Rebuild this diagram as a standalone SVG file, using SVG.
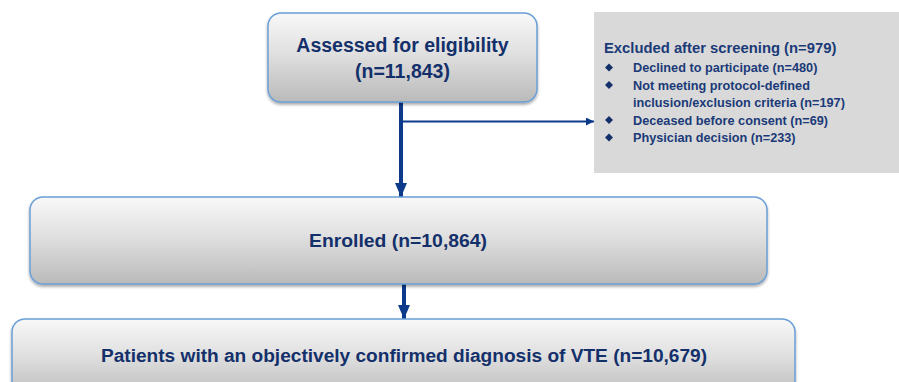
<svg xmlns="http://www.w3.org/2000/svg" width="899" height="382" viewBox="0 0 899 382">
  <defs>
    <linearGradient id="boxGrad" x1="0" y1="0" x2="0" y2="1">
      <stop offset="0" stop-color="#f8f8f8"/>
      <stop offset="0.45" stop-color="#e0e0e0"/>
      <stop offset="1" stop-color="#bababa"/>
    </linearGradient>
    <filter id="shadow" x="-5%" y="-5%" width="110%" height="120%">
      <feGaussianBlur in="SourceAlpha" stdDeviation="1.5"/>
      <feOffset dx="0" dy="2" result="b"/>
      <feComponentTransfer><feFuncA type="linear" slope="0.35"/></feComponentTransfer>
      <feMerge><feMergeNode/><feMergeNode in="SourceGraphic"/></feMerge>
    </filter>
    <marker id="bigHead" markerWidth="14" markerHeight="12" refX="14" refY="6" orient="auto" markerUnits="userSpaceOnUse">
      <path d="M0,0 L14,6 L0,12 Z" fill="#0d3a8a"/>
    </marker>
    <marker id="smallHead" markerWidth="8" markerHeight="8" refX="8" refY="4" orient="auto" markerUnits="userSpaceOnUse">
      <path d="M0,0 L8,4 L0,8 Z" fill="#0d3a8a"/>
    </marker>
  </defs>
  <style>
    .box { fill: url(#boxGrad); stroke: #6a9fd8; stroke-width: 1.5; filter: url(#shadow); }
    .main { font-family: "Liberation Sans", Arial, sans-serif; font-weight: bold; fill: #14306a; text-anchor: middle; }
    .excl { font-family: "Liberation Sans", Arial, sans-serif; font-weight: bold; fill: #1b3a78; }
    .bullet { fill: #14306a; }
    .thick { stroke: #0d3a8a; stroke-width: 4; fill: none; }
    .thin { stroke: #0d3a8a; stroke-width: 2; fill: none; }
  </style>

  <g id="connectors">
    <line class="thick" x1="401" y1="102" x2="401" y2="197" marker-end="url(#bigHead)"/>
    <line class="thin" x1="401" y1="121.5" x2="594" y2="121.5" marker-end="url(#smallHead)"/>
    <line class="thick" x1="404" y1="284" x2="404" y2="319" marker-end="url(#bigHead)"/>
  </g>

  <g id="assessed">
    <rect class="box" x="268" y="13" width="269" height="89" rx="13"/>
    <text class="main" x="402.5" y="52" font-size="19.5">Assessed for eligibility</text>
    <text class="main" x="402.5" y="78" font-size="19.5">(n=11,843)</text>
  </g>

  <g id="excluded">
    <rect x="594" y="12" width="305" height="161" fill="#d9d9d9"/>
    <text class="excl" x="604" y="53" font-size="14.8">Excluded after screening (n=979)</text>
    <path class="bullet" d="M609,63.5 l4,4 l-4,4 l-4,-4 Z"/>
    <text class="excl" x="633" y="72" font-size="12.7">Declined to participate (n=480)</text>
    <path class="bullet" d="M609,81 l4,4 l-4,4 l-4,-4 Z"/>
    <text class="excl" x="633" y="89.5" font-size="12.7">Not meeting protocol-defined</text>
    <text class="excl" x="633" y="107" font-size="12.7">inclusion/exclusion criteria (n=197)</text>
    <path class="bullet" d="M609,116 l4,4 l-4,4 l-4,-4 Z"/>
    <text class="excl" x="633" y="124.5" font-size="12.7">Deceased before consent (n=69)</text>
    <path class="bullet" d="M609,133.5 l4,4 l-4,4 l-4,-4 Z"/>
    <text class="excl" x="633" y="142" font-size="12.7">Physician decision (n=233)</text>
  </g>

  <g id="enrolled">
    <rect class="box" x="30" y="197" width="737" height="87" rx="13"/>
    <text class="main" x="398" y="247" font-size="18" textLength="178" lengthAdjust="spacingAndGlyphs">Enrolled (n=10,864)</text>
  </g>

  <g id="patients">
    <rect class="box" x="12" y="319" width="783" height="80" rx="13"/>
    <text class="main" x="404" y="362" font-size="18" textLength="606" lengthAdjust="spacingAndGlyphs">Patients with an objectively confirmed diagnosis of VTE (n=10,679)</text>
  </g>
</svg>
